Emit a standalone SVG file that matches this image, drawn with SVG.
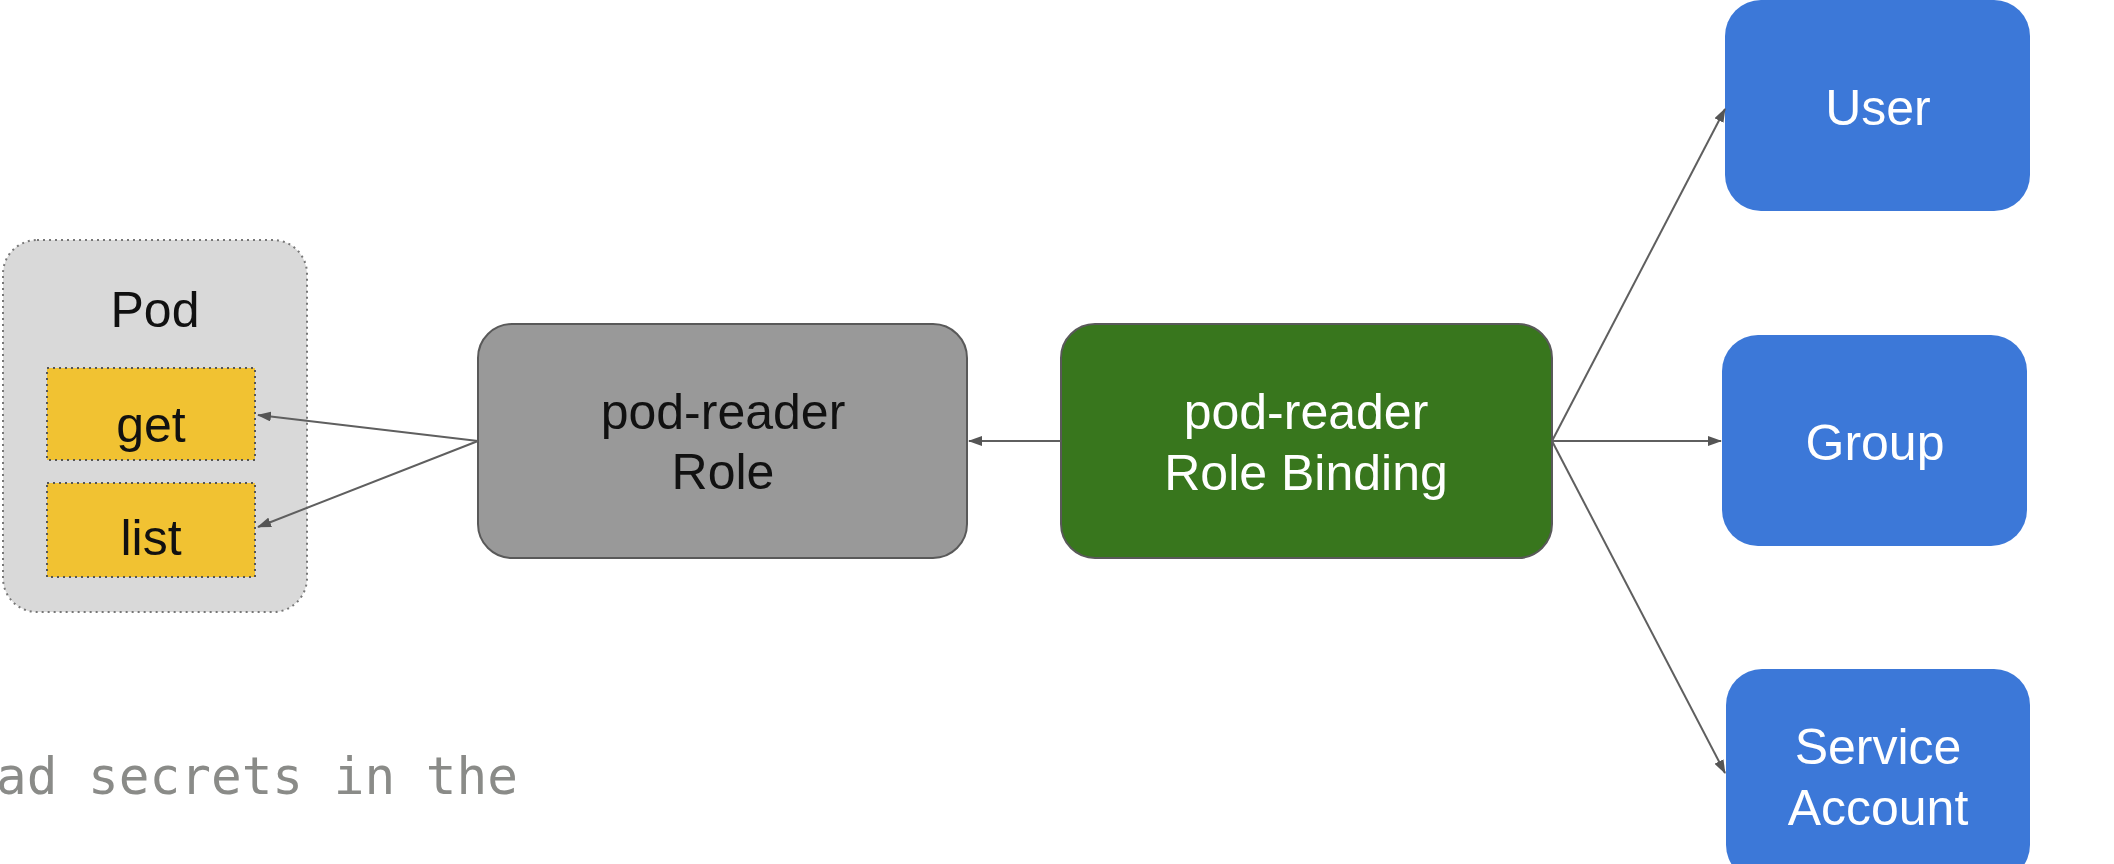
<svg xmlns="http://www.w3.org/2000/svg" width="2114" height="864" viewBox="0 0 2114 864">
<defs>
<marker id="arr" markerUnits="userSpaceOnUse" markerWidth="14" markerHeight="10" refX="13" refY="5" orient="auto">
<path d="M0,0 L14,5 L0,10 z" fill="#555555"/>
</marker>
<style>
.lbl{font-family:"Liberation Sans",Arial,sans-serif;text-anchor:middle;font-size:50px}
.conn{stroke:#5f5f5f;stroke-width:2;fill:none;marker-end:url(#arr)}
.blue{fill:#3c78d8}
.wt{fill:#ffffff}
.dk{fill:#111111}
</style>
</defs>
<rect width="2114" height="864" fill="#ffffff"/>
<g id="pod">
<rect x="3" y="240" width="304" height="372" rx="34" fill="#d9d9d9" stroke="#777777" stroke-width="2" stroke-dasharray="2 4"/>
<text class="lbl dk" x="155" y="327" font-size="49">Pod</text>
</g>
<g id="get">
<rect x="47" y="368" width="208" height="92" fill="#f1c232" stroke="#555555" stroke-width="2" stroke-dasharray="2 4"/>
<text class="lbl dk" x="151" y="442">get</text>
</g>
<g id="list">
<rect x="47" y="483" width="208" height="94" fill="#f1c232" stroke="#555555" stroke-width="2" stroke-dasharray="2 4"/>
<text class="lbl dk" x="151" y="555">list</text>
</g>
<g id="role">
<rect x="478" y="324" width="489" height="234" rx="34" fill="#999999" stroke="#595959" stroke-width="2"/>
<text class="lbl dk" x="723" y="429">pod-reader</text>
<text class="lbl dk" x="723" y="489">Role</text>
</g>
<g id="rolebinding">
<rect x="1061" y="324" width="491" height="234" rx="34" fill="#38761d" stroke="#595959" stroke-width="2"/>
<text class="lbl wt" x="1306" y="429">pod-reader</text>
<text class="lbl wt" x="1306" y="490">Role Binding</text>
</g>
<g id="user">
<rect class="blue" x="1725" y="0" width="305" height="211" rx="36"/>
<text class="lbl wt" x="1878" y="125">User</text>
</g>
<g id="group">
<rect class="blue" x="1722" y="335" width="305" height="211" rx="36"/>
<text class="lbl wt" x="1875" y="460">Group</text>
</g>
<g id="serviceaccount">
<rect class="blue" x="1726" y="669" width="304" height="212" rx="36"/>
<text class="lbl wt" x="1878" y="764">Service</text>
<text class="lbl wt" x="1878" y="825">Account</text>
</g>
<g id="connectors">
<line class="conn" x1="478" y1="441" x2="258" y2="415"/>
<line class="conn" x1="478" y1="441" x2="258" y2="527"/>
<line class="conn" x1="1061" y1="441" x2="969" y2="441"/>
<line class="conn" x1="1552" y1="441" x2="1725" y2="109"/>
<line class="conn" x1="1552" y1="441" x2="1721" y2="441"/>
<line class="conn" x1="1552" y1="441" x2="1725" y2="773"/>
</g>
<text x="-4" y="794" font-family="'DejaVu Sans Mono','Liberation Mono',monospace" font-size="51" fill="#8a8b88">ad secrets in the</text>
</svg>
